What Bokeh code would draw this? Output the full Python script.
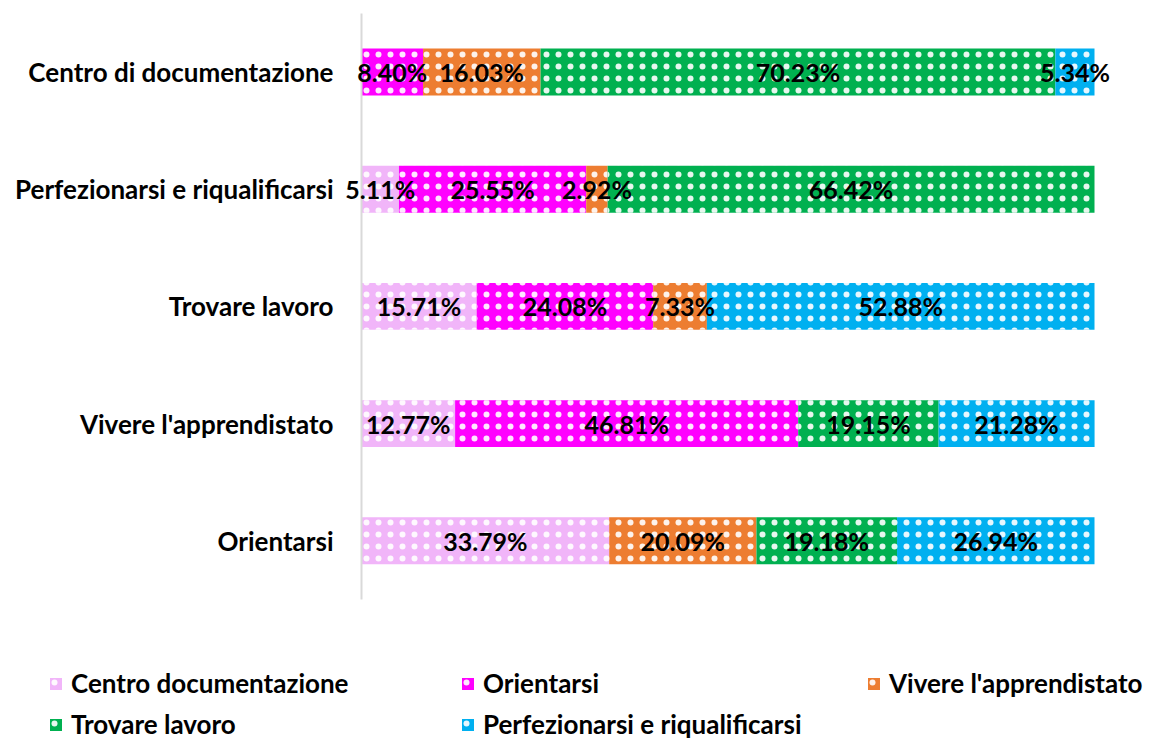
from bokeh.plotting import figure
from bokeh.models import ColumnDataSource, Range1d, Legend, LegendItem
from bokeh.core.properties import value
from bokeh.embed import file_html
from bokeh.resources import INLINE

categories = ["Centro di documentazione", "Perfezionarsi e riqualificarsi",
              "Trovare lavoro", "Vivere l'apprendistato", "Orientarsi"]
series = ["Centro documentazione", "Orientarsi", "Vivere l'apprendistato",
          "Trovare lavoro", "Perfezionarsi e riqualificarsi"]
centro_documentazione = [0.0, 5.11, 15.71, 12.77, 33.79]
orientarsi = [8.40, 25.55, 24.08, 46.81, 0.0]
vivere_apprendistato = [16.03, 2.92, 7.33, 0.0, 20.09]
trovare_lavoro = [70.23, 66.42, 0.0, 19.15, 19.18]
perfezionarsi = [5.34, 0.0, 52.88, 21.28, 26.94]
colors = ["#F1B5F9", "#FF00FF", "#ED7D31", "#00B050", "#00B0F0"]

values = [centro_documentazione, orientarsi, vivere_apprendistato, trovare_lavoro, perfezionarsi]

# layout (pixels)
W, H = 1150, 743
AX_LEFT, AX_RIGHT = 361, 1094      # 0% and 100%
FIRST_CENTER, BAND = 71.5, 117.2    # first bar centre, band height
ppu = (AX_RIGHT - AX_LEFT) / 100.0
x0 = -AX_LEFT / ppu
x1 = (W - AX_LEFT) / ppu
ytop = FIRST_CENTER / BAND
ybot = ytop - H / BAND

# category positions: top category at 0, next at -1, ...
ypos = [-float(i) for i in range(len(categories))]

keys = ["s%d" % i for i in range(len(series))]
data = {"cat": categories, "y": ypos}
for k, v in zip(keys, values):
    data[k] = v
source = ColumnDataSource(data)

FONT = "Lato"

p = figure(width=W, height=H, output_backend="svg", toolbar_location=None,
           x_range=Range1d(x0, x1), y_range=Range1d(ybot, ytop),
           min_border=0)
p.outline_line_color = None
p.axis.visible = False
p.grid.visible = False
p.background_fill_color = "white"

renderers = p.hbar_stack(keys, y="y", height=0.4, color=colors, source=source,
                         line_color=None, hatch_pattern="dot", hatch_color="white",
                         hatch_scale=12, hatch_weight=0.4, hatch_alpha=0.9)

# vertical category axis line
p.segment(x0=[0], y0=[ypos[0] + 0.5], x1=[0], y1=[ypos[-1] - 0.5],
          line_color="#D9D9D9", line_width=2)

# category labels
p.text(x=[0] * len(categories), y=ypos, text=categories, x_offset=-28,
       text_align="right", text_baseline="middle",
       text_font=value(FONT), text_font_style="bold", text_font_size="26px",
       text_color="black")

# data labels
lx, ly, lt = [], [], []
for i, yy in enumerate(ypos):
    cum = 0.0
    for v in values:
        val = v[i]
        if val > 0:
            lx.append(cum + val / 2)
            ly.append(yy)
            lt.append("%.2f%%" % val)
        cum += val
p.text(x=lx, y=ly, text=lt, text_align="center", text_baseline="middle",
       text_font=value(FONT), text_font_style="bold", text_font_size="25px",
       text_color="black")

# legend (positions in screen px from bottom-left of the canvas)
positions = [(48, H - 686 - 13), (460, H - 686 - 13), (866, H - 686 - 13),
             (48, H - 727 - 13), (460, H - 727 - 13)]
for name, r, loc in zip(series, renderers, positions):
    leg = Legend(items=[LegendItem(label=name, renderers=[r])], location=loc,
                 background_fill_alpha=0, border_line_color=None, padding=0,
                 margin=0, label_text_font=FONT, label_text_font_style="bold",
                 label_text_font_size="26px", label_text_color="black",
                 glyph_width=15, glyph_height=15, label_standoff=8,
                 label_height=26)
    p.add_layout(leg)

open("out.html", "w").write(file_html(p, INLINE))
